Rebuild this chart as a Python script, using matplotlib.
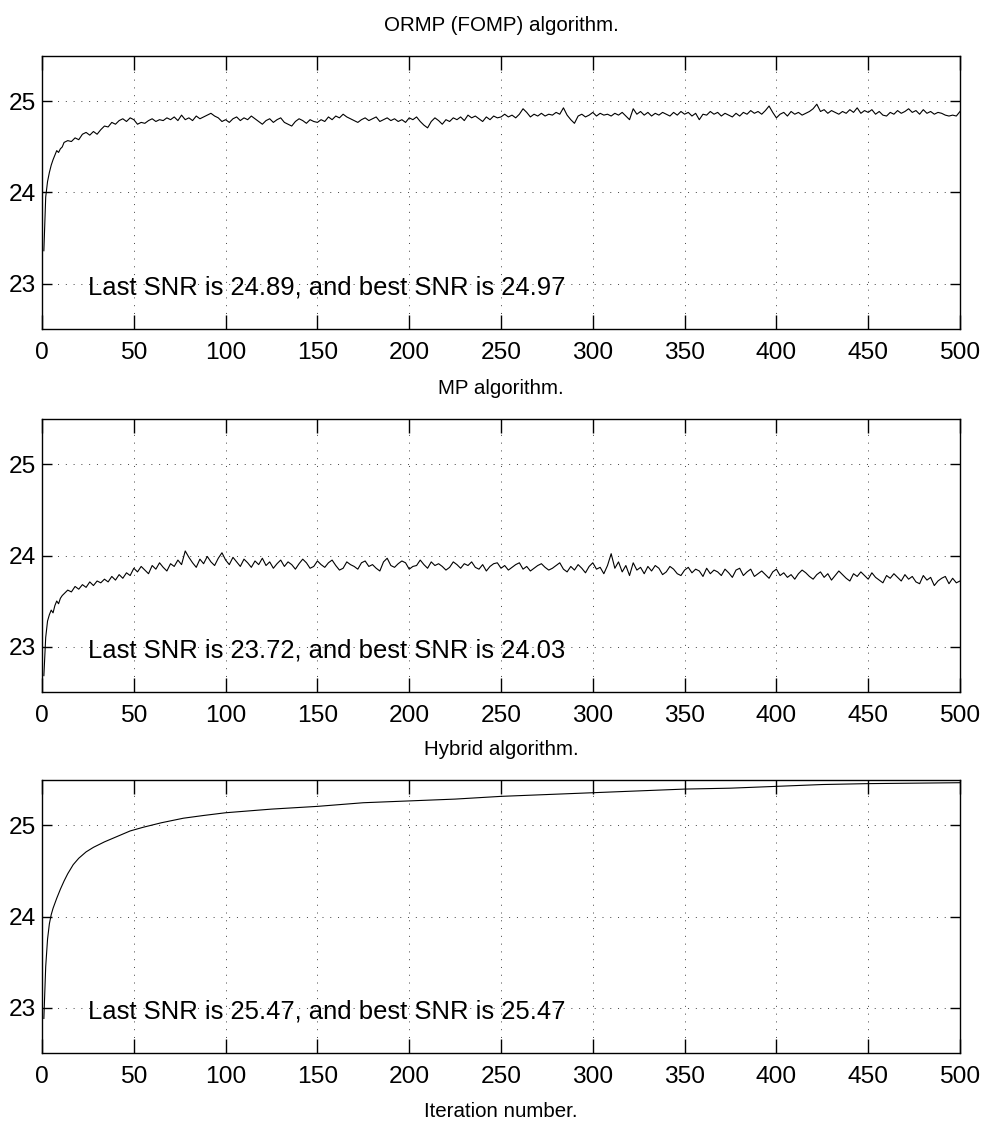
import numpy as np
import matplotlib
matplotlib.use("Agg")
import matplotlib.pyplot as plt
from matplotlib import font_manager

# font: narrow helvetica-like if present
try:
    font_manager.findfont('Liberation Sans Narrow', fallback_to_default=False)
    fam, k = 'Liberation Sans Narrow', 1.0
except ValueError:
    fam, k = 'Liberation Sans', 0.82
plt.rcParams['font.family'] = [fam, 'DejaVu Sans']

titles = ['ORMP (FOMP) algorithm.', 'MP algorithm.', 'Hybrid algorithm.']
notes = ['Last SNR is 24.89, and best SNR is 24.97',
         'Last SNR is 23.72, and best SNR is 24.03',
         'Last SNR is 25.47, and best SNR is 25.47']

# iterations for the noisy curves: 1..11 one by one, then every 2nd up to 500
it_noisy = list(range(1, 12)) + list(range(12, 501, 2))

ormp_snr = [23.36, 23.95, 24.12, 24.22, 24.30, 24.36, 24.41, 24.46, 24.44, 24.48, 24.50,
            24.55, 24.57, 24.56, 24.60, 24.58, 24.64, 24.66, 24.63, 24.67, 24.64,
            24.69, 24.73, 24.72, 24.77, 24.75, 24.79, 24.81, 24.78, 24.82, 24.80,
            24.75, 24.77, 24.76, 24.79, 24.81, 24.78, 24.80, 24.79, 24.82, 24.80,
            24.83, 24.79, 24.85, 24.80, 24.82, 24.79, 24.84, 24.81, 24.83, 24.85,
            24.87, 24.84, 24.82, 24.78, 24.80, 24.77, 24.81, 24.83, 24.79, 24.82,
            24.80, 24.84, 24.81, 24.78, 24.75, 24.79, 24.81, 24.77, 24.80, 24.82,
            24.77, 24.75, 24.73, 24.78, 24.81, 24.79, 24.76, 24.80, 24.78, 24.77,
            24.80, 24.78, 24.83, 24.80, 24.84, 24.82, 24.86, 24.83, 24.81, 24.79,
            24.77, 24.80, 24.82, 24.79, 24.81, 24.83, 24.78, 24.80, 24.82, 24.79,
            24.81, 24.78, 24.80, 24.77, 24.82, 24.80, 24.83, 24.78, 24.74, 24.71,
            24.78, 24.82, 24.79, 24.75, 24.80, 24.78, 24.82, 24.80, 24.83, 24.79,
            24.85, 24.82, 24.84, 24.81, 24.78, 24.83, 24.80, 24.84, 24.82, 24.83,
            24.86, 24.83, 24.85, 24.82, 24.86, 24.92, 24.88, 24.83, 24.86, 24.84,
            24.87, 24.84, 24.86, 24.85, 24.88, 24.86, 24.93, 24.85, 24.80, 24.76,
            24.84, 24.86, 24.83, 24.85, 24.88, 24.84, 24.87, 24.85, 24.86, 24.84,
            24.87, 24.85, 24.88, 24.84, 24.80, 24.92, 24.86, 24.89, 24.85, 24.88,
            24.84, 24.87, 24.85, 24.88, 24.86, 24.84, 24.88, 24.85, 24.89, 24.86,
            24.88, 24.84, 24.87, 24.80, 24.86, 24.85, 24.89, 24.86, 24.88, 24.84,
            24.87, 24.85, 24.83, 24.87, 24.84, 24.88, 24.86, 24.90, 24.87, 24.89,
            24.86, 24.90, 24.95, 24.88, 24.82, 24.86, 24.88, 24.84, 24.89, 24.86,
            24.88, 24.85, 24.87, 24.89, 24.92, 24.97, 24.89, 24.91, 24.87, 24.90,
            24.88, 24.86, 24.89, 24.87, 24.91, 24.88, 24.93, 24.87, 24.90, 24.88,
            24.91, 24.86, 24.89, 24.85, 24.84, 24.88, 24.86, 24.90, 24.87, 24.89,
            24.92, 24.88, 24.90, 24.86, 24.91, 24.87, 24.89, 24.86, 24.88, 24.87,
            24.85, 24.84, 24.85, 24.84, 24.89]

mp_snr = [22.68, 23.10, 23.28, 23.35, 23.40, 23.37, 23.45, 23.50, 23.47, 23.53, 23.56,
          23.58, 23.62, 23.60, 23.66, 23.63, 23.68, 23.65, 23.71, 23.67, 23.72,
          23.70, 23.74, 23.71, 23.77, 23.73, 23.79, 23.75, 23.81, 23.78, 23.86,
          23.82, 23.88, 23.84, 23.80, 23.89, 23.85, 23.92, 23.87, 23.83, 23.91,
          23.88, 23.95, 23.90, 24.05, 23.98, 23.92, 23.87, 23.96, 23.91, 23.99,
          23.93, 23.89, 23.97, 24.03, 23.95, 23.90, 23.98, 23.93, 23.88, 23.96,
          23.92, 23.87, 23.94, 23.90, 23.97, 23.89, 23.93, 23.86, 23.91, 23.95,
          23.88, 23.93, 23.90, 23.85, 23.91, 23.96, 23.92, 23.86, 23.88, 23.94,
          23.90, 23.87, 23.92, 23.95, 23.89, 23.84, 23.86, 23.93, 23.90, 23.88,
          23.85, 23.92, 23.94, 23.88, 23.90, 23.86, 23.83, 23.93, 23.97, 23.89,
          23.87, 23.91, 23.94, 23.92, 23.85, 23.88, 23.89, 23.95, 23.90, 23.86,
          23.93, 23.89, 23.91, 23.88, 23.84, 23.87, 23.93, 23.90, 23.86, 23.91,
          23.89, 23.93, 23.87, 23.85, 23.90, 23.83, 23.88, 23.91, 23.92, 23.86,
          23.89, 23.84, 23.87, 23.90, 23.92, 23.85, 23.88, 23.83, 23.86, 23.89,
          23.91, 23.87, 23.84, 23.86, 23.89, 23.92, 23.85, 23.82, 23.88, 23.84,
          23.90, 23.86, 23.81, 23.88, 23.92, 23.85, 23.87, 23.80, 23.89, 24.02,
          23.86, 23.93, 23.82, 23.89, 23.78, 23.92, 23.84, 23.87, 23.80, 23.88,
          23.83, 23.89, 23.86, 23.79, 23.82, 23.88, 23.85, 23.80, 23.78, 23.84,
          23.87, 23.81, 23.85, 23.83, 23.77, 23.86, 23.80, 23.84, 23.82, 23.78,
          23.85, 23.81, 23.76, 23.84, 23.86, 23.78, 23.82, 23.85, 23.77, 23.80,
          23.83, 23.79, 23.75, 23.82, 23.85, 23.78, 23.81, 23.76, 23.79, 23.74,
          23.80, 23.84, 23.81, 23.77, 23.74, 23.79, 23.82, 23.76, 23.80, 23.73,
          23.78, 23.83, 23.79, 23.75, 23.72, 23.80, 23.77, 23.82, 23.78, 23.74,
          23.81, 23.76, 23.73, 23.70, 23.78, 23.75, 23.80, 23.76, 23.72, 23.79,
          23.74, 23.77, 23.71, 23.69, 23.78, 23.73, 23.76, 23.67, 23.72, 23.75,
          23.77, 23.69, 23.75, 23.70, 23.72]

it_hybrid = [1, 2, 3, 4, 5, 6, 8, 10, 12, 14, 17, 20, 24, 28, 34, 41, 48, 55, 65, 77,
             88, 100, 125, 150, 175, 200, 225, 250, 275, 300, 325, 350, 375, 400,
             425, 450, 475, 500]
hybrid_snr = [22.88, 23.45, 23.75, 23.92, 24.02, 24.09, 24.20, 24.30, 24.39, 24.47,
              24.57, 24.64, 24.71, 24.76, 24.82, 24.88, 24.94, 24.98, 25.03, 25.08,
              25.11, 25.14, 25.18, 25.21, 25.25, 25.27, 25.29, 25.32, 25.34, 25.36,
              25.38, 25.40, 25.41, 25.43, 25.45, 25.46, 25.465, 25.47]

xs = [it_noisy, it_noisy, it_hybrid]
ys = [ormp_snr, mp_snr, hybrid_snr]

fig = plt.figure(figsize=(9.82, 11.26), dpi=100)
bottoms = [0.7078, 0.3854, 0.0648]

for i in range(3):
    ax = fig.add_axes([0.0428, bottoms[i], 0.9348, 0.2425])
    ax.plot(xs[i], ys[i], color='k', linewidth=0.8)
    ax.set_xlim(0, 500)
    ax.set_ylim(22.5, 25.5)
    ax.set_xticks(range(0, 501, 50))
    ax.set_yticks([23, 24, 25])
    ax.grid(True, color='0.25', linestyle=(0, (1, 7)), linewidth=0.7)
    ax.tick_params(axis='both', direction='in', top=True, right=True,
                   width=1.0, colors='k', labelsize=21.5 * k)
    ax.tick_params(axis='x', length=10, pad=9.4)
    ax.tick_params(axis='y', length=7, pad=4)
    for s in ax.spines.values():
        s.set_linewidth(1.0)
    ax.set_title(titles[i], fontsize=18 * k, pad=18)
    ax.text(25, 22.96, notes[i], fontsize=22.5 * k, va='center', ha='left')
    if i == 2:
        ax.set_xlabel('Iteration number.', fontsize=18 * k, labelpad=10)

plt.savefig('out.png', dpi=100)
